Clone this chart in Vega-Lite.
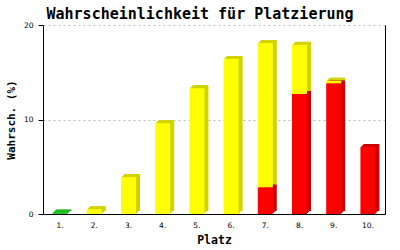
{
  "$schema": "https://vega.github.io/schema/vega-lite/v6.json",
  "width": 342,
  "height": 189,
  "autosize": {"type": "none"},
  "padding": {"left": 43, "top": 25, "right": 15, "bottom": 36},
  "background": "white",
  "title": {
    "text": "Wahrscheinlichkeit für Platzierung",
    "font": "DejaVu Sans Mono",
    "fontSize": 15,
    "fontWeight": "bold",
    "color": "black",
    "anchor": "middle",
    "frame": "group",
    "dx": -14,
    "offset": 7,
    "dy": 20,
    "baseline": "alphabetic"
  },
  "data": {
    "values": [
      {"platz": "1.", "serie": "C", "wert": 0.15},
      {"platz": "2.", "serie": "B", "wert": 0.5},
      {"platz": "3.", "serie": "B", "wert": 3.9},
      {"platz": "4.", "serie": "B", "wert": 9.6},
      {"platz": "5.", "serie": "B", "wert": 13.3},
      {"platz": "6.", "serie": "B", "wert": 16.4},
      {"platz": "7.", "serie": "B", "wert": 15.3},
      {"platz": "8.", "serie": "B", "wert": 5.2},
      {"platz": "9.", "serie": "B", "wert": 0.3},
      {"platz": "7.", "serie": "A", "wert": 2.8},
      {"platz": "8.", "serie": "A", "wert": 12.7},
      {"platz": "9.", "serie": "A", "wert": 13.8},
      {"platz": "10.", "serie": "A", "wert": 7.1}
    ]
  },
  "encoding": {
    "x": {
      "field": "platz",
      "type": "ordinal",
      "sort": ["1.", "2.", "3.", "4.", "5.", "6.", "7.", "8.", "9.", "10."],
      "scale": {"paddingInner": 0, "paddingOuter": 0},
      "axis": {
        "title": "Platz",
        "titleFont": "DejaVu Sans Mono",
        "titleFontSize": 11.5,
        "titleFontWeight": "bold",
        "titleColor": "black",
        "titlePadding": 6,
        "labelFont": "DejaVu Sans",
        "labelFontSize": 7.5,
        "labelColor": "black",
        "labelAngle": 0,
        "labelPadding": 7,
        "ticks": false,
        "domainColor": "black",
        "domainWidth": 1,
        "grid": false
      }
    },
    "y": {
      "field": "wert",
      "type": "quantitative",
      "stack": "zero",
      "scale": {"domain": [0, 20], "nice": false}
    },
    "order": {"field": "serie", "sort": "ascending"}
  },
  "layer": [
    {
      "mark": {"type": "bar", "size": 15, "xOffset": 1, "yOffset": -1, "y2Offset": 0},
      "encoding": {
        "y": {
          "field": "wert", "type": "quantitative", "stack": "zero",
          "scale": {"domain": [0, 20], "nice": false},
          "axis": {"orient": "right", "labels": false, "ticks": false, "grid": false, "title": null, "domainColor": "black"}
        },
        "color": {"field": "serie", "type": "nominal", "legend": null,
          "scale": {"domain": ["A", "B", "C"], "range": ["#CC0000", "#D2D200", "#1DB81D"]}}
      }
    },
    {
      "mark": {"type": "bar", "size": 15, "xOffset": 2, "yOffset": -2, "y2Offset": 0},
      "encoding": {
        "y": {"field": "wert", "type": "quantitative", "stack": "zero", "axis": null},
        "color": {"field": "serie", "type": "nominal", "legend": null,
          "scale": {"domain": ["A", "B", "C"], "range": ["#CC0000", "#D2D200", "#1DB81D"]}}
      }
    },
    {
      "mark": {"type": "bar", "size": 15, "xOffset": 3, "yOffset": -3, "y2Offset": 0},
      "encoding": {
        "y": {"field": "wert", "type": "quantitative", "stack": "zero", "axis": null},
        "color": {"field": "serie", "type": "nominal", "legend": null,
          "scale": {"domain": ["A", "B", "C"], "range": ["#CC0000", "#D2D200", "#1DB81D"]}}
      }
    },
    {
      "mark": {"type": "bar", "size": 15, "xOffset": 4, "yOffset": -3, "y2Offset": 0},
      "encoding": {
        "y": {"field": "wert", "type": "quantitative", "stack": "zero", "axis": null},
        "color": {"field": "serie", "type": "nominal", "legend": null,
          "scale": {"domain": ["A", "B", "C"], "range": ["#CC0000", "#D2D200", "#1DB81D"]}}
      }
    },
    {
      "mark": {"type": "bar", "size": 15},
      "encoding": {
        "y": {
          "field": "wert", "type": "quantitative", "stack": "zero",
          "axis": {
            "orient": "left",
            "values": [0, 10, 20],
            "title": "Wahrsch. (%)",
            "titleFont": "DejaVu Sans Mono",
            "titleFontSize": 11,
            "titleFontWeight": "bold",
            "titleColor": "black",
            "titlePadding": 7,
            "labelFont": "DejaVu Sans",
            "labelFontSize": 7.5,
            "labelColor": "black",
            "labelPadding": 5,
            "tickSize": 5,
            "tickColor": "black",
            "domainColor": "black",
            "grid": true,
            "gridColor": "#BBBBBB",
            "gridDash": [2, 3],
            "gridWidth": 1
          }
        },
        "color": {"field": "serie", "type": "nominal", "legend": null,
          "scale": {"domain": ["A", "B", "C"], "range": ["#FF0000", "#FFFF00", "#22CC22"]}}
      }
    }
  ],
  "resolve": {"scale": {"color": "independent"}, "axis": {"y": "independent"}},
  "config": {"view": {"stroke": null}}
}
